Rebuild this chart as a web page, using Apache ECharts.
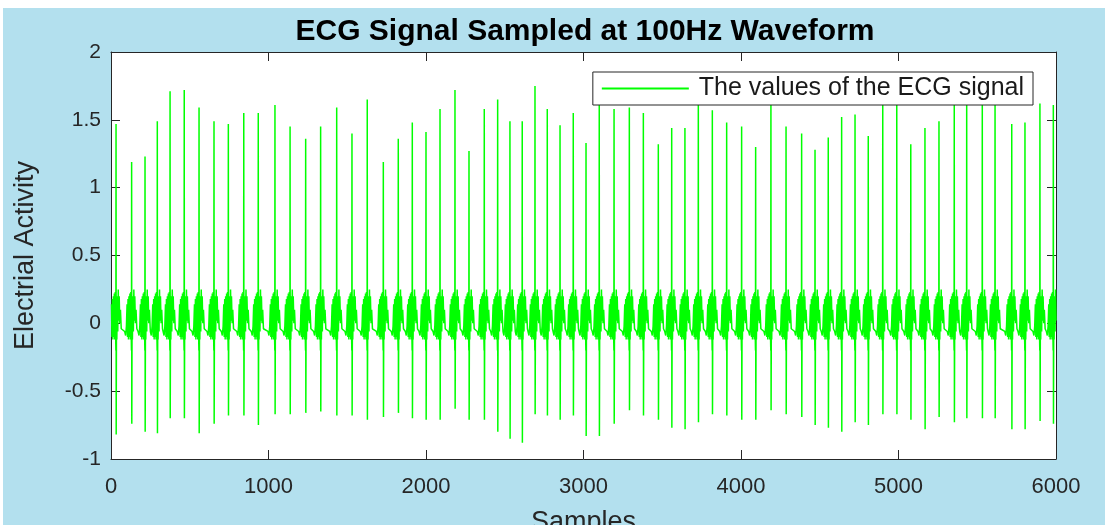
<!DOCTYPE html>
<html>
<head>
<meta charset="utf-8">
<script src="https://cdn.jsdelivr.net/npm/echarts@6/dist/echarts.min.js"></script>
<style>
  html, body { margin: 0; padding: 0; background: #ffffff; }
  #chart { position: absolute; left: 3px; top: 8px; width: 1102px; height: 517px; background: #b3e0ee; }
</style>
</head>
<body>
<div id="chart"></div>
<script>
// ---- data ----
const titleText = 'ECG Signal Sampled at 100Hz Waveform';
const seriesName = 'The values of the ECG signal';
const xTicks = [0, 1000, 2000, 3000, 4000, 5000, 6000];
const yTicks = [-1, -0.5, 0, 0.5, 1, 1.5, 2];

// sample index of each R peak
const rSample = [32,131,216,294,375,465,559,654,745,843,
  935,1041,1137,1236,1331,1433,1530,1627,
  1729,1824,1913,2000,2089,2184,2273,2370,2455,
  2533,2611,2692,2770,2851,2935,3016,3100,3194,3291,3380,
  3475,3560,3644,3729,3818,3909,4004,4093,4190,4286,
  4385,4470,4554,4639,4724,4808,4900,4989,5078,
  5168,5257,5354,5433,5532,5613,5719,5803,5898,5983];
// R peak heights
const rPeak = [1.47,1.19,1.23,1.49,1.71,1.72,1.59,1.49,1.47,1.55,
  1.55,1.61,1.45,1.36,1.45,1.59,1.40,1.65,
  1.19,1.36,1.48,1.41,1.58,1.72,1.27,1.58,1.65,
  1.49,1.49,1.75,1.58,1.46,1.55,1.33,1.66,1.58,1.59,1.55,
  1.32,1.44,1.44,1.68,1.57,1.48,1.45,1.30,1.70,1.45,
  1.40,1.28,1.37,1.52,1.54,1.38,1.68,1.70,1.32,
  1.44,1.49,1.66,1.68,1.65,1.66,1.47,1.48,1.62,1.61];
// S trough depths
const sTrough = [-0.82,-0.74,-0.80,-0.81,-0.70,-0.70,-0.81,-0.74,-0.68,-0.68,
  -0.75,-0.67,-0.67,-0.66,-0.65,-0.68,-0.68,-0.71,
  -0.69,-0.66,-0.70,-0.71,-0.71,-0.63,-0.71,-0.71,-0.80,
  -0.85,-0.88,-0.67,-0.68,-0.71,-0.68,-0.83,-0.83,-0.74,-0.64,-0.68,
  -0.71,-0.77,-0.78,-0.73,-0.67,-0.68,-0.71,-0.71,-0.64,-0.67,
  -0.69,-0.75,-0.77,-0.80,-0.73,-0.75,-0.67,-0.67,-0.71,
  -0.78,-0.69,-0.73,-0.70,-0.70,-0.70,-0.78,-0.78,-0.72,-0.74];
// low-amplitude activity around each beat (sample offset from R, value)
const shapeOffset = [-44,-38,-33,-29,-26,-23,-20,-17,-14,-11,-8,-5,-3,-1, 3,5,8,11,14,17,20,24,28,33];
const shapeValue  = [-0.06,-0.09,-0.02,0.14,-0.1,0.18,-0.12,0.2,-0.1,0.22,-0.12,0.23,-0.05,-0.2, 0.12,-0.12,0.2,-0.06,0.25,0.02,0.2,0.0,0.1,-0.04];

// ---- build the series ----
const ecg = [];
for (let b = 0; b < rSample.length; b++) {
  const r = rSample[b];
  for (let k = 0; k < shapeOffset.length; k++) {
    if (shapeOffset[k] >= 0) break;
    ecg.push([r + shapeOffset[k], shapeValue[k]]);
  }
  ecg.push([r, rPeak[b]]);
  ecg.push([r + 1, sTrough[b]]);
  for (let k = 0; k < shapeOffset.length; k++) {
    if (shapeOffset[k] > 0) ecg.push([r + shapeOffset[k], shapeValue[k]]);
  }
}
const ecgData = ecg.filter(p => p[0] >= 1 && p[0] <= 6000);

const FONT = 'Liberation Sans';
const AX = '#262626';
const chart = echarts.init(document.getElementById('chart'));
const frameAxis = {
  axisLine: { show: true, onZero: false, lineStyle: { color: AX, width: 1 } },
  axisTick: { show: true, inside: true, length: 9, lineStyle: { color: AX, width: 1 } },
  splitLine: { show: false }
};
chart.setOption({
  animation: false,
  backgroundColor: 'transparent',
  textStyle: { fontFamily: FONT },
  title: {
    text: titleText,
    left: 577, top: 4, textAlign: 'center',
    textStyle: { fontFamily: FONT, fontWeight: 'bold', fontSize: 30, color: '#000' }
  },
  legend: {
    data: [seriesName],
    right: 72, top: 64,
    orient: 'horizontal',
    backgroundColor: '#ffffff',
    borderColor: AX, borderWidth: 1, borderRadius: 0,
    padding: [4, 9, 4, 9],
    icon: 'rect',
    itemWidth: 87, itemHeight: 2,
    textStyle: { fontFamily: FONT, fontSize: 25, color: '#1a1a1a', padding: [0, 0, 0, 5] }
  },
  grid: { left: 108, right: 49, top: 44, bottom: 66, show: true, backgroundColor: '#ffffff', borderWidth: 0,
    containLabel: false, outerBoundsMode: 'none' },
  xAxis: [
    Object.assign({
      type: 'value', position: 'bottom', min: 0, max: 6000, interval: 1000,
      name: 'Samples', nameLocation: 'middle', nameGap: 50,
      nameTextStyle: { fontFamily: FONT, fontSize: 27, color: '#262626' },
      axisLabel: { fontFamily: FONT, fontSize: 22, color: '#262626', margin: 17,
        formatter: v => xTicks.includes(v) ? String(v) : '' }
    }, frameAxis),
    Object.assign({
      type: 'value', position: 'top', min: 0, max: 6000, interval: 1000,
      axisLabel: { show: false }
    }, frameAxis)
  ],
  yAxis: [
    Object.assign({
      type: 'value', position: 'left', min: -1, max: 2, interval: 0.5,
      name: 'Electrial Activity', nameLocation: 'middle', nameGap: 72,
      nameTextStyle: { fontFamily: FONT, fontSize: 27, color: '#262626' },
      axisLabel: { fontFamily: FONT, fontSize: 21, color: '#262626', margin: 10,
        formatter: v => yTicks.includes(v) ? String(v) : '' }
    }, frameAxis),
    Object.assign({
      type: 'value', position: 'right', min: -1, max: 2, interval: 0.5,
      axisLabel: { show: false }
    }, frameAxis)
  ],
  series: [{
    name: seriesName,
    type: 'line',
    data: ecgData,
    xAxisIndex: 0, yAxisIndex: 0,
    showSymbol: false,
    symbol: 'none',
    sampling: null,
    lineStyle: { color: '#00ff00', width: 1.5 },
    itemStyle: { color: '#00ff00' }
  }]
});
</script>
</body>
</html>
